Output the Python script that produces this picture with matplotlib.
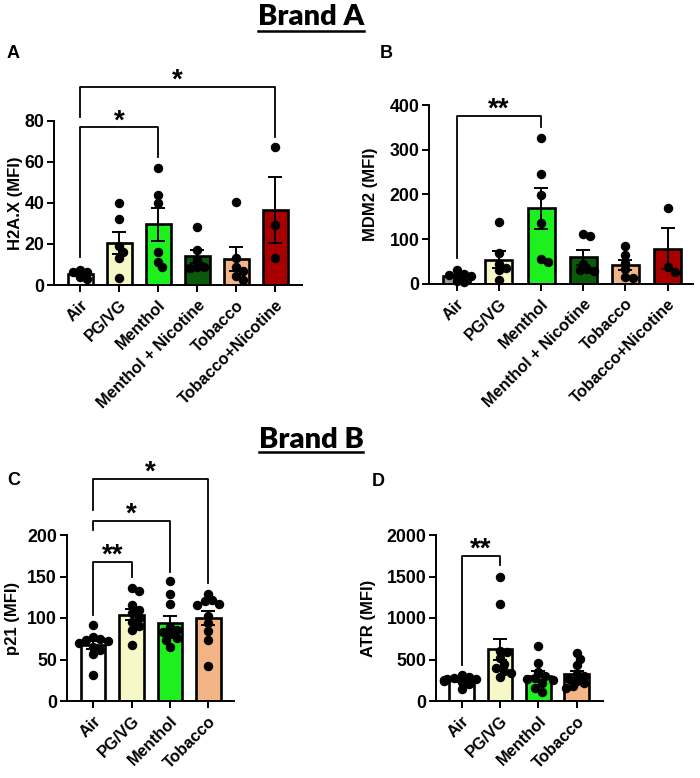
import numpy as np
import matplotlib
matplotlib.use('Agg')
import matplotlib.pyplot as plt
from matplotlib.lines import Line2D

# ---- data ----
groups_a = ['Air', 'PG/VG', 'Menthol', 'Menthol + Nicotine', 'Tobacco', 'Tobacco+Nicotine']
groups_b = ['Air', 'PG/VG', 'Menthol', 'Tobacco']

h2ax = [
    [6.2, 6.5, 7.5, 3.0, 4.0],
    [40, 32, 16, 19, 13, 3.4],
    [57.2, 43.6, 40, 16.3, 8.6, 11.4],
    [28.3, 16.9, 12.4, 8.6, 8.6, 8.5],
    [40.6, 13, 8.6, 7, 4.5, 2.5],
    [67.2, 29.1, 13.3],
]
mdm2 = [
    [22, 19, 17, 30, 4, 6],
    [138, 68, 45, 35, 30, 8],
    [327, 246, 198, 135, 48, 56],
    [107, 112, 45, 32, 30, 28],
    [85, 64, 47, 32, 14, 12],
    [170, 27, 38],
]
p21 = [
    [91, 77, 75, 74, 72, 70, 65, 61, 57, 31],
    [136, 132, 116, 110, 106, 100, 95, 90, 86, 68],
    [144, 129, 117, 89, 86, 83, 81, 76, 74, 65],
    [129, 122, 120, 117, 116, 102, 94, 84, 74, 42],
]
atr = [
    [315, 295, 280, 270, 260, 250, 240, 230, 210, 145],
    [1500, 1170, 600, 590, 520, 450, 400, 360, 340, 290],
    [665, 455, 355, 300, 280, 270, 250, 220, 160, 105],
    [575, 510, 430, 330, 300, 270, 245, 215, 180, 160],
]

colors_a = ['#FFFFFF', '#F7F8C8', '#1EF01E', '#0B5A0B', '#F4B586', '#A80000']
colors_a_mdm2 = ['#9C9C9C', '#F7F8C8', '#1EF01E', '#0B5A0B', '#F4B586', '#A80000']
colors_b = ['#FFFFFF', '#F7F8C8', '#1EF01E', '#F4B586']

# significance brackets: (group i, group j, top, left leg end, right leg end, label)
sig_h2ax = [(0, 2, 76.7, 13.8, 62.3, '*'), (0, 5, 96.4, 81.8, 72, '*')]
sig_mdm2 = [(0, 2, 375, 58, 351, '**')]
sig_p21 = [(0, 1, 167.8, 103.6, 149.8, '**'), (0, 2, 217, 206, 155.8, '*'),
           (0, 3, 267.5, 230, 141.8, '*')]
sig_atr = [(0, 1, 1747, 434, 1639, '**')]

W, H = 700, 778
plt.rcParams['font.family'] = ['Liberation Sans', 'DejaVu Sans']
plt.rcParams['font.weight'] = 'bold'

fig = plt.figure(figsize=(W / 100, H / 100), dpi=100)


def px_box(left, right, bottom, top):
    return [left / W, 1 - bottom / H, (right - left) / W, (bottom - top) / H]


def swarm(ax, xc, vals, r=3.6):
    pts = ax.transData.transform(np.column_stack([np.full(len(vals), xc), vals]))
    order = np.argsort(vals)[::-1]
    placed = []
    out = np.zeros((len(vals), 2))
    for i in order:
        x0, y0 = pts[i]
        for k in [0, 1, -1, 2, -2, 3, -3, 4, -4, 5, -5]:
            xx = x0 + k * r
            if all((xx - px) ** 2 + (y0 - py) ** 2 >= (1.8 * r) ** 2 for px, py in placed):
                break
        placed.append((xx, y0))
        out[i] = (xx, y0)
    return ax.transData.inverted().transform(out)[:, 0]


def panel(box, xlim, ylim, ystep, data, labels, colors, ylabel, ylab_x, sigs):
    ax = fig.add_axes(px_box(*box))
    ax.set_xlim(*xlim)
    ax.set_ylim(*ylim)
    x = np.arange(len(data))
    means = [np.mean(d) for d in data]
    sems = [np.std(d, ddof=1) / np.sqrt(len(d)) for d in data]
    ax.bar(x, means, width=0.64, color=colors, edgecolor='black', linewidth=1.9, zorder=2)
    ax.errorbar(x, means, yerr=sems, fmt='none', ecolor='black', elinewidth=1.4,
                capsize=5, capthick=1.4, zorder=3)
    for i, d in enumerate(data):
        xs = swarm(ax, i, d)
        ax.plot(xs, d, 'o', color='black', ms=5.8, zorder=4, clip_on=False)
    for s in ['top', 'right']:
        ax.spines[s].set_visible(False)
    for s in ['left', 'bottom']:
        ax.spines[s].set_linewidth(1.4)
    ax.set_yticks(np.arange(ylim[0], ylim[1] + 1, ystep))
    ax.set_xticks(x)
    ax.set_xticklabels(labels, rotation=45, ha='right', rotation_mode='anchor',
                       fontsize=11.8, fontweight='bold')
    ax.tick_params(axis='both', width=1.4, length=5, pad=2)
    ax.tick_params(axis='y', labelsize=12.8)
    ax.tick_params(axis='x', pad=4)
    ax.set_ylabel(ylabel, fontsize=12, fontweight='bold', va='center')
    ax.yaxis.set_label_coords(ylab_x, 0.5)
    for i, j, top, y1, y2, lab in sigs:
        ax.plot([i, i, j, j], [y1, top, top, y2], color='black', lw=1.3, clip_on=False)
        ax.annotate(lab, xy=((i + j) / 2, top), xytext=(0, -5), textcoords='offset points',
                    ha='center', va='bottom', fontsize=20, fontweight='bold',
                    annotation_clip=False)
    return ax


panel((54, 302, 285, 120.7), (-0.667, 5.69), (0, 80), 20, h2ax, groups_a, colors_a,
      'H2A.X (MFI)', -0.157, sig_h2ax)
panel((429, 693, 283.7, 105), (-0.656, 5.6), (0, 400), 100, mdm2, groups_a, colors_a_mdm2,
      'MDM2 (MFI)', -0.223, sig_mdm2)
panel((66.7, 234, 701, 535), (-0.69, 3.67), (0, 200), 50, p21, groups_b, colors_b,
      'p21 (MFI)', -0.321, sig_p21)
panel((436, 603, 701, 535), (-0.67, 3.69), (0, 2000), 500, atr, groups_b, colors_b,
      'ATR (MFI)', -0.407, sig_atr)

# panel letters
for lab, xp, yp in [('A', 7, 58), ('B', 380, 58), ('C', 7, 485), ('D', 372, 486)]:
    fig.text(xp / W, 1 - yp / H, lab, fontsize=13, fontweight='bold', va='baseline')

# section titles with underline
renderer = fig.canvas.get_renderer()
for title, base, uline in [('Brand A', 25, 30.5), ('Brand B', 448, 452.5)]:
    t = fig.text(311 / W, 1 - base / H, title, fontsize=21, fontweight='heavy',
                 family='Lato', ha='center', va='baseline')
    bb = t.get_window_extent(renderer)
    fig.add_artist(Line2D([bb.x0 / W, bb.x1 / W], [1 - uline / H] * 2,
                          color='black', lw=1.8, transform=fig.transFigure))

fig.savefig('out.png', dpi=100)
